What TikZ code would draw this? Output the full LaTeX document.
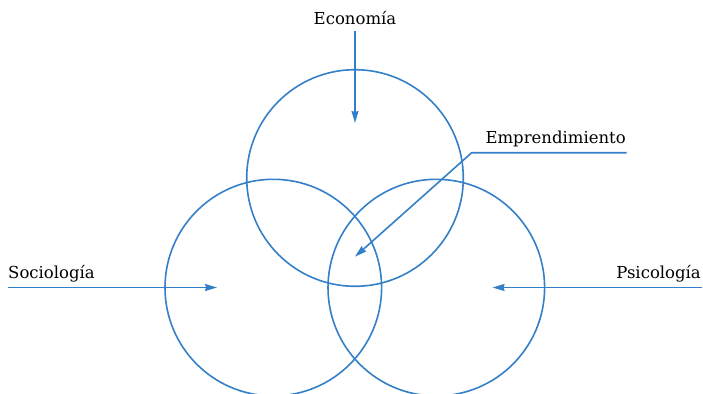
\documentclass[tikz,border=0pt]{standalone}
\usepackage{fontspec}
\setmainfont{DejaVu Serif}
\usepackage{tikz}
\usetikzlibrary{arrows.meta}
\definecolor{lineblue}{RGB}{52,128,200}
\tikzset{
  field/.style={circle, draw=lineblue, line width=1.6pt, minimum size=216.6pt, inner sep=0pt},
  tag/.style={font=\fontsize{16.5}{19}\selectfont, inner sep=0pt, text=black},
  arrow/.style={draw=lineblue, line width=1.6pt, -{Stealth[length=12pt,width=7pt,inset=1pt]}}
}

\begin{document}
\begin{tikzpicture}[x=1pt,y=-1pt]
    \useasboundingbox (0,0) rectangle (703,393);
    \clip (0,0) rectangle (703,393);

    % the three circles
    \node (eco) [field] at (355,178) {};
    \node (soc) [field] at (273.3,287.6) {};
    \node (psi) [field] at (436.3,287.6) {};

    % labels
    \node (economia) [tag, anchor=base] at (355,25) {Economía};
    \node (sociologia) [tag, anchor=base west] at (8,278) {Sociología};
    \node (psicologia) [tag, anchor=base east] at (701,278) {Psicología};
    \node (emprend) [tag, anchor=base east] at (626,143) {Emprendimiento};

    % arrow ends
    \coordinate (ecotip) at (355,123);
    \coordinate (soctail) at (8,287.5);
    \coordinate (soctip) at (217,287.5);
    \coordinate (psitail) at (702,287.5);
    \coordinate (psitip) at (492.5,287.5);
    \coordinate (emptail) at (626.7,152.7);
    \coordinate (empbend) at (471.7,152.7);
    \coordinate (emptip) at (355,256.7);

    \draw[arrow] (economia.south |- 0,31) -- (ecotip);
    \draw[arrow] (soctail) -- (soctip);
    \draw[arrow] (psitail) -- (psitip);
    \draw[arrow] (emptail) -- (empbend) -- (emptip);
\end{tikzpicture}
\end{document}
